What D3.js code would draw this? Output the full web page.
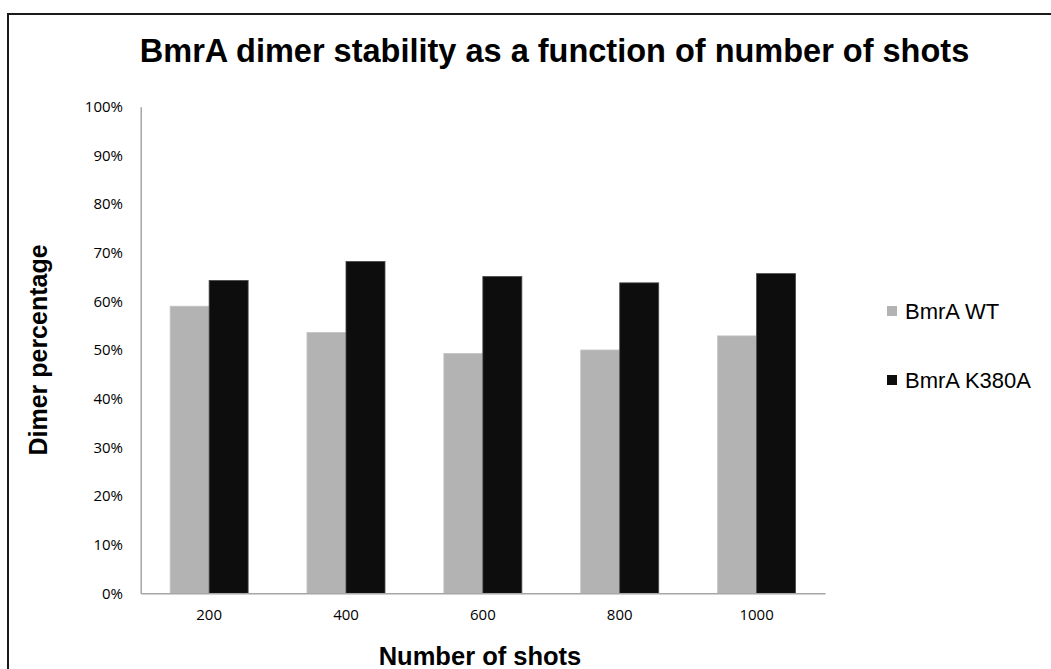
<!DOCTYPE html>
<html>
<head>
<meta charset="utf-8">
<script src="https://cdn.jsdelivr.net/npm/d3@7"></script>
<style>
html,body{margin:0;padding:0;background:#fff;}
svg{display:block;}
</style>
</head>
<body>
<svg id="chart" width="1051" height="669"></svg>
<script>
const categories = ["200", "400", "600", "800", "1000"];
const seriesNames = ["BmrA WT", "BmrA K380A"];
const wtValues = [59.0, 53.6, 49.3, 50.0, 52.9];
const k380aValues = [64.3, 68.2, 65.1, 63.8, 65.7];
const yTicks = [0, 10, 20, 30, 40, 50, 60, 70, 80, 90, 100];
const colors = ["#b3b3b3", "#0d0d0d"];

const svg = d3.select("#chart");
const W = 1051, H = 669;
svg.append("rect").attr("x", 0).attr("y", 0).attr("width", W).attr("height", H).attr("fill", "#fff");
// outer frame
svg.append("rect").attr("x", 8).attr("y", 14).attr("width", W + 20).attr("height", H + 20)
  .attr("fill", "none").attr("stroke", "#1a1a1a").attr("stroke-width", 2);

const plot = {left: 140.7, right: 825, top: 106.7, bottom: 593.3};

const x0 = d3.scaleBand().domain(categories).range([plot.left, plot.right]).paddingInner(0.43).paddingOuter(0.215);
const x1 = d3.scaleBand().domain(seriesNames).range([0, x0.bandwidth()]).padding(0);
const y = d3.scaleLinear().domain([0, 100]).range([plot.bottom, plot.top]);

const data = categories.map((c, i) => ({cat: c, vals: [wtValues[i], k380aValues[i]]}));

const g = svg.append("g");
const groups = g.selectAll("g.grp").data(data).enter().append("g")
  .attr("transform", d => `translate(${x0(d.cat)},0)`);
groups.selectAll("rect").data(d => d.vals.map((v, j) => ({v, j}))).enter().append("rect")
  .attr("x", d => x1(seriesNames[d.j]))
  .attr("y", d => y(d.v))
  .attr("width", x1.bandwidth())
  .attr("height", d => y(0) - y(d.v))
  .attr("fill", d => colors[d.j])
  .attr("stroke", d => d.j === 1 ? "#4a4a4a" : "#c4c4c4")
  .attr("stroke-width", 0.8);

// y axis
const yAxis = d3.axisLeft(y).tickValues(yTicks).tickSize(0).tickPadding(17.7).tickFormat(d => d + "%");
const ya = svg.append("g").attr("transform", `translate(${plot.left},0)`).call(yAxis);
ya.select(".domain").attr("stroke", "#a6a6a6").attr("stroke-width", 1.5);
ya.selectAll("text").attr("font-family", "'Open Sans', sans-serif").attr("font-size", 15).attr("fill", "#000");

// x axis
const xAxis = d3.axisBottom(x0).tickSize(0).tickPadding(16);
const xa = svg.append("g").attr("transform", `translate(0,${plot.bottom})`).call(xAxis);
xa.select(".domain").attr("stroke", "#a6a6a6").attr("stroke-width", 1.5);
xa.selectAll("text").attr("font-family", "'Open Sans', sans-serif").attr("font-size", 15).attr("fill", "#000");

// title
svg.append("text").attr("x", 554.5).attr("y", 62).attr("text-anchor", "middle")
  .attr("font-family", "'Liberation Sans', Arial, sans-serif").attr("font-weight", "bold")
  .attr("font-size", 32.5).attr("fill", "#000")
  .text("BmrA dimer stability as a function of number of shots");

// y label
svg.append("text").attr("transform", "translate(47,350) rotate(-90)").attr("text-anchor", "middle")
  .attr("font-family", "'Liberation Sans', Arial, sans-serif").attr("font-weight", "bold")
  .attr("font-size", 25).attr("fill", "#000").text("Dimer percentage");

// x label
svg.append("text").attr("x", 480).attr("y", 665).attr("text-anchor", "middle")
  .attr("font-family", "'Liberation Sans', Arial, sans-serif").attr("font-weight", "bold")
  .attr("font-size", 25.5).attr("fill", "#000").text("Number of shots");

// legend
const legYs = [311, 380];
const leg = svg.append("g");
seriesNames.forEach((n, i) => {
  leg.append("rect").attr("x", 887).attr("y", legYs[i] - 5).attr("width", 10).attr("height", 10).attr("fill", colors[i]);
  leg.append("text").attr("x", 905).attr("y", legYs[i]).attr("dy", "0.35em")
    .attr("font-family", "'Liberation Sans', Arial, sans-serif").attr("font-size", 22)
    .attr("fill", "#000").text(n);
});
</script>
</body>
</html>
